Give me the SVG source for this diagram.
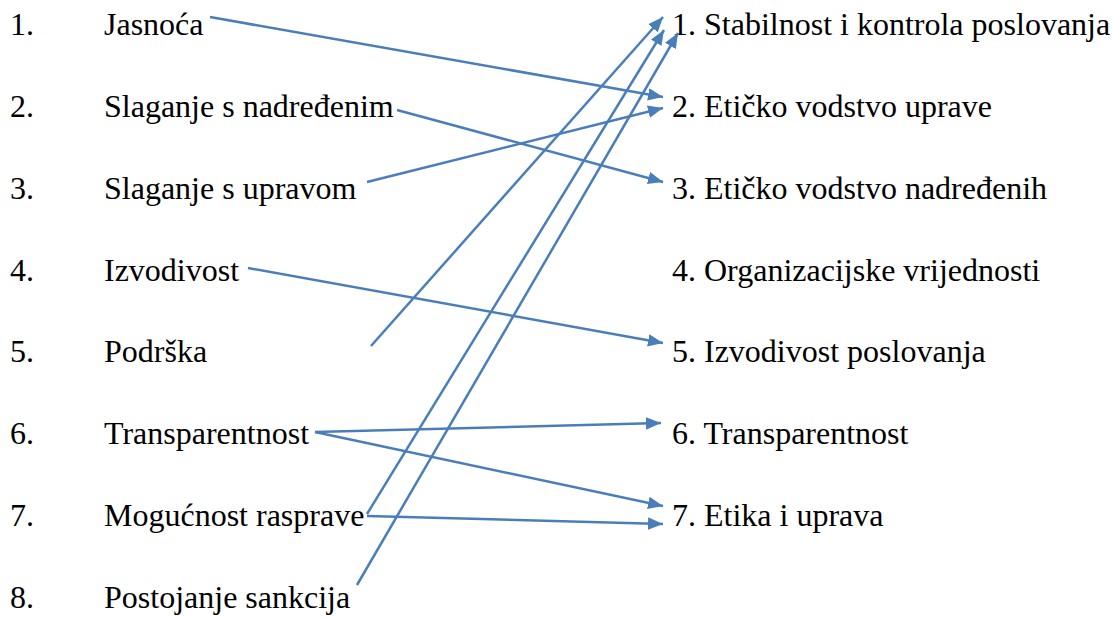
<svg xmlns="http://www.w3.org/2000/svg" width="1112" height="617" viewBox="0 0 1112 617">
<defs>
<style>
text{font-family:"Liberation Serif","Times New Roman",serif;font-size:32px;fill:#000}
.c line{stroke:#4a7ebb;stroke-width:2.5;fill:none;marker-end:url(#ah)}
</style>
<marker id="ah" viewBox="0 0 12 10" refX="12" refY="5" markerWidth="6" markerHeight="5" orient="auto" markerUnits="strokeWidth">
<path d="M0,0 L12,5 L0,10 Z" fill="#4a7ebb"/>
</marker>
</defs>
<rect width="1112" height="617" fill="#fff"/>
<g id="left1"><text x="10" y="35">1.</text><text x="104" y="35">Jasnoća</text></g>
<g id="left2"><text x="10" y="117">2.</text><text x="104" y="117">Slaganje s nadređenim</text></g>
<g id="left3"><text x="10" y="199">3.</text><text x="104" y="199">Slaganje s upravom</text></g>
<g id="left4"><text x="10" y="281">4.</text><text x="104" y="281">Izvodivost</text></g>
<g id="left5"><text x="10" y="362">5.</text><text x="104" y="362">Podrška</text></g>
<g id="left6"><text x="10" y="444">6.</text><text x="104" y="444">Transparentnost</text></g>
<g id="left7"><text x="10" y="526">7.</text><text x="104" y="526">Mogućnost rasprave</text></g>
<g id="left8"><text x="10" y="608">8.</text><text x="104" y="608">Postojanje sankcija</text></g>
<g id="right1"><text x="672" y="35">1. Stabilnost i kontrola poslovanja</text></g>
<g id="right2"><text x="672" y="117">2. Etičko vodstvo uprave</text></g>
<g id="right3"><text x="672" y="199">3. Etičko vodstvo nadređenih</text></g>
<g id="right4"><text x="672" y="281">4. Organizacijske vrijednosti</text></g>
<g id="right5"><text x="672" y="362">5. Izvodivost poslovanja</text></g>
<g id="right6"><text x="672" y="444">6. Transparentnost</text></g>
<g id="right7"><text x="672" y="526">7. Etika i uprava</text></g>
<g id="connectors" class="c">
<line x1="210" y1="17" x2="663" y2="97"/>
<line x1="397" y1="110" x2="663" y2="182"/>
<line x1="367" y1="182" x2="663" y2="108"/>
<line x1="248" y1="268" x2="663" y2="343"/>
<line x1="371" y1="346" x2="663" y2="17"/>
<line x1="315" y1="432" x2="661" y2="423"/>
<line x1="315" y1="432" x2="663" y2="506"/>
<line x1="367" y1="514" x2="664" y2="30"/>
<line x1="367" y1="516" x2="663" y2="524"/>
<line x1="357" y1="585" x2="678" y2="33"/>
</g>
</svg>
